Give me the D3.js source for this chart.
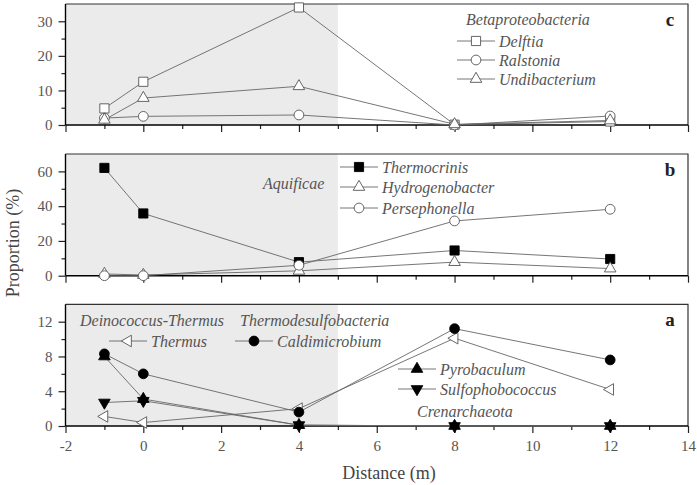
<!DOCTYPE html>
<html>
<head>
<meta charset="utf-8">
<script src="https://cdn.jsdelivr.net/npm/d3@7"></script>
<style>
  body { margin: 0; background: #fff; }
</style>
</head>
<body>
<div id="chart"></div>
<script>
// distances (m)
var distance = [-1, 0, 4, 8, 12];

// panel c - Betaproteobacteria
var delftia = [4.8, 12.5, 34, 0.1, 1.0];
var ralstonia = [2.0, 2.5, 2.9, 0, 2.6];
var undibacterium = [1.5, 7.8, 11.2, 0.2, 1.3];

// panel b - Aquificae
var thermocrinis = [62, 35.8, 7.8, 14.5, 9.6];
var hydrogenobacter = [1.0, 0.4, 2.8, 7.8, 4.1];
var persephonella = [0, 0, 6.0, 31.5, 38.2];

// panel a
var thermus = [1.1, 0.4, 2.0, 10.1, 4.2];
var caldimicrobium = [8.3, 6.0, 1.6, 11.2, 7.6];
var pyrobaculum = [8.0, 3.1, 0.1, 0, 0];
var sulfophobococcus = [2.7, 2.9, 0.1, 0, 0];

var xTicks = [-2, 0, 2, 4, 6, 8, 10, 12, 14];

var serif = "'Liberation Serif', 'Times New Roman', 'DejaVu Serif', serif";
var width = 697, height = 485;
var svg = d3.select('#chart').append('svg')
  .attr('width', width)
  .attr('height', height)
  .attr('font-family', serif)

var x = d3.scaleLinear().domain([-2, 14]).range([65.5, 688]);

var lineColor = "#666";

function marker(g, type, fill, px, py) {
  var sym, size, rot = 0;
  if (type == "square") { sym = d3.symbolSquare; size = 84; }
  if (type == "circle") { sym = d3.symbolCircle; size = 75; }
  if (type == "up") { sym = d3.symbolTriangle; size = 58; }
  if (type == "down") { sym = d3.symbolTriangle; size = 58; rot = 180; }
  if (type == "left") { sym = d3.symbolTriangle; size = 58; rot = -90; }
  g.append("path")
    .attr("d", d3.symbol().type(sym).size(size)())
    .attr("transform", "translate(" + px + "," + py + ") rotate(" + rot + ")")
    .attr("fill", fill)
    .attr("stroke", fill == "#000" ? "#000" : "#555")
    .attr("stroke-width", 0.9)
}

function drawPanel(p) {
  var g = svg.append("g");
  var y = d3.scaleLinear().domain([0, p.max]).range([p.bottom, p.top]);

  // shaded zone
  g.append("rect")
    .attr("x", x(-2)).attr("y", p.top)
    .attr("width", x(5) - x(-2)).attr("height", p.bottom - p.top)
    .attr("fill", "#ebebeb")

  // frame top / right
  g.append("path")
    .attr("d", "M" + x(-2) + "," + p.top + "H" + x(14) + "V" + p.bottom)
    .attr("fill", "none").attr("stroke", "#333").attr("stroke-width", 1.2)

  // x axis
  var xa = g.append("g").attr("transform", "translate(0," + p.bottom + ")")
    .call(d3.axisBottom(x).tickValues(xTicks).tickSize(7)
      .tickFormat(p.xLabels ? function (d) { return String(d); } : ""));
  xa.append("g").call(d3.axisBottom(x).tickValues(d3.range(-1, 14, 2)).tickSize(4).tickFormat(""));
  xa.selectAll(".domain").remove();
  xa.append("line").attr("x1", x(-2)).attr("x2", x(14)).attr("stroke", "#000").attr("stroke-width", 1.4);
  xa.selectAll(".tick line").attr("stroke", "#222").attr("stroke-width", 1.2);
  xa.selectAll(".tick text").attr("font-size", 15).attr("dy", "1.0em").attr("fill", "#555");

  // y axis
  var ya = g.append("g").attr("transform", "translate(" + x(-2) + ",0)")
    .call(d3.axisLeft(y).tickValues(p.ticks).tickSize(7).tickPadding(6));
  ya.append("g").call(d3.axisLeft(y).tickValues(p.minor).tickSize(4).tickFormat(""));
  ya.selectAll(".domain").remove();
  ya.append("line").attr("y1", p.top).attr("y2", p.bottom).attr("stroke", "#000").attr("stroke-width", 1.4);
  ya.selectAll(".tick line").attr("stroke", "#222").attr("stroke-width", 1.2);
  ya.selectAll(".tick text").attr("font-size", 15).attr("fill", "#555");
  xa.attr("font-family", serif);
  ya.attr("font-family", serif);

  var line = d3.line().x(function (d, i) { return x(distance[i]); }).y(function (d) { return y(d); });

  p.series.forEach(function (s) {
    g.append("path").datum(s.values)
      .attr("d", line)
      .attr("fill", "none").attr("stroke", lineColor).attr("stroke-width", 0.9)
  });
  p.series.forEach(function (s) {
    s.values.forEach(function (v, i) {
      marker(g, s.type, s.fill, x(distance[i]), y(v));
    });
    // legend entry
    g.append("line")
      .attr("x1", s.lx).attr("x2", s.lx + 38).attr("y1", s.ly).attr("y2", s.ly)
      .attr("stroke", lineColor).attr("stroke-width", 0.9)
    marker(g, s.type, s.fill, s.lx + 19, s.ly);
    g.append("text")
      .attr("x", s.lx + 42).attr("y", s.ly).attr("dy", "0.35em")
      .attr("font-size", 16).attr("font-style", "italic").attr("fill", "#555")
      .text(s.name)
  });

  p.notes.forEach(function (n) {
    g.append("text")
      .attr("x", n.x).attr("y", n.y).attr("dy", "0.35em")
      .attr("font-size", 16).attr("font-style", "italic").attr("fill", "#555")
      .text(n.text)
  });

  g.append("text")
    .attr("x", 670).attr("y", p.top + 15).attr("dy", "0.35em")
    .attr("font-size", 19).attr("font-weight", "bold")
    .attr("text-anchor", "middle")
    .attr("fill", "#222")
    .text(p.letter)
}

drawPanel({
  top: 4, bottom: 125, max: 35, ticks: [0, 10, 20, 30], minor: [5, 15, 25], letter: "c",
  series: [
    { name: "Delftia", values: delftia, type: "square", fill: "#fff", lx: 457, ly: 41 },
    { name: "Ralstonia", values: ralstonia, type: "circle", fill: "#fff", lx: 457, ly: 60 },
    { name: "Undibacterium", values: undibacterium, type: "up", fill: "#fff", lx: 457, ly: 79 }
  ],
  notes: [{ text: "Betaproteobacteria", x: 466, y: 19 }]
});

drawPanel({
  top: 154, bottom: 275.7, max: 70, ticks: [0, 20, 40, 60], minor: [10, 30, 50], letter: "b",
  series: [
    { name: "Thermocrinis", values: thermocrinis, type: "square", fill: "#000", lx: 340, ly: 167 },
    { name: "Hydrogenobacter", values: hydrogenobacter, type: "up", fill: "#fff", lx: 340, ly: 187 },
    { name: "Persephonella", values: persephonella, type: "circle", fill: "#fff", lx: 340, ly: 208 }
  ],
  notes: [{ text: "Aquificae", x: 263, y: 183 }]
});

drawPanel({
  top: 304.3, bottom: 426, max: 14, ticks: [0, 4, 8, 12], minor: [2, 6, 10], letter: "a", xLabels: true,
  series: [
    { name: "Thermus", values: thermus, type: "left", fill: "#fff", lx: 109, ly: 341 },
    { name: "Caldimicrobium", values: caldimicrobium, type: "circle", fill: "#000", lx: 235, ly: 341 },
    { name: "Pyrobaculum", values: pyrobaculum, type: "up", fill: "#000", lx: 398, ly: 369 },
    { name: "Sulfophobococcus", values: sulfophobococcus, type: "down", fill: "#000", lx: 398, ly: 389 }
  ],
  notes: [
    { text: "Deinococcus-Thermus", x: 80, y: 320 },
    { text: "Thermodesulfobacteria", x: 240, y: 320 },
    { text: "Crenarchaeota", x: 417, y: 411 }
  ]
});

svg.append("text")
  .attr("x", 389).attr("y", 473).attr("dy", "0.35em")
  .attr("text-anchor", "middle").attr("font-size", 18).attr("fill", "#444")
  .text("Distance (m)")

svg.append("text")
  .attr("transform", "translate(13,243) rotate(-90)")
  .attr("dy", "0.35em")
  .attr("text-anchor", "middle").attr("font-size", 18).attr("fill", "#444")
  .text("Proportion (%)")
</script>
</body>
</html>
